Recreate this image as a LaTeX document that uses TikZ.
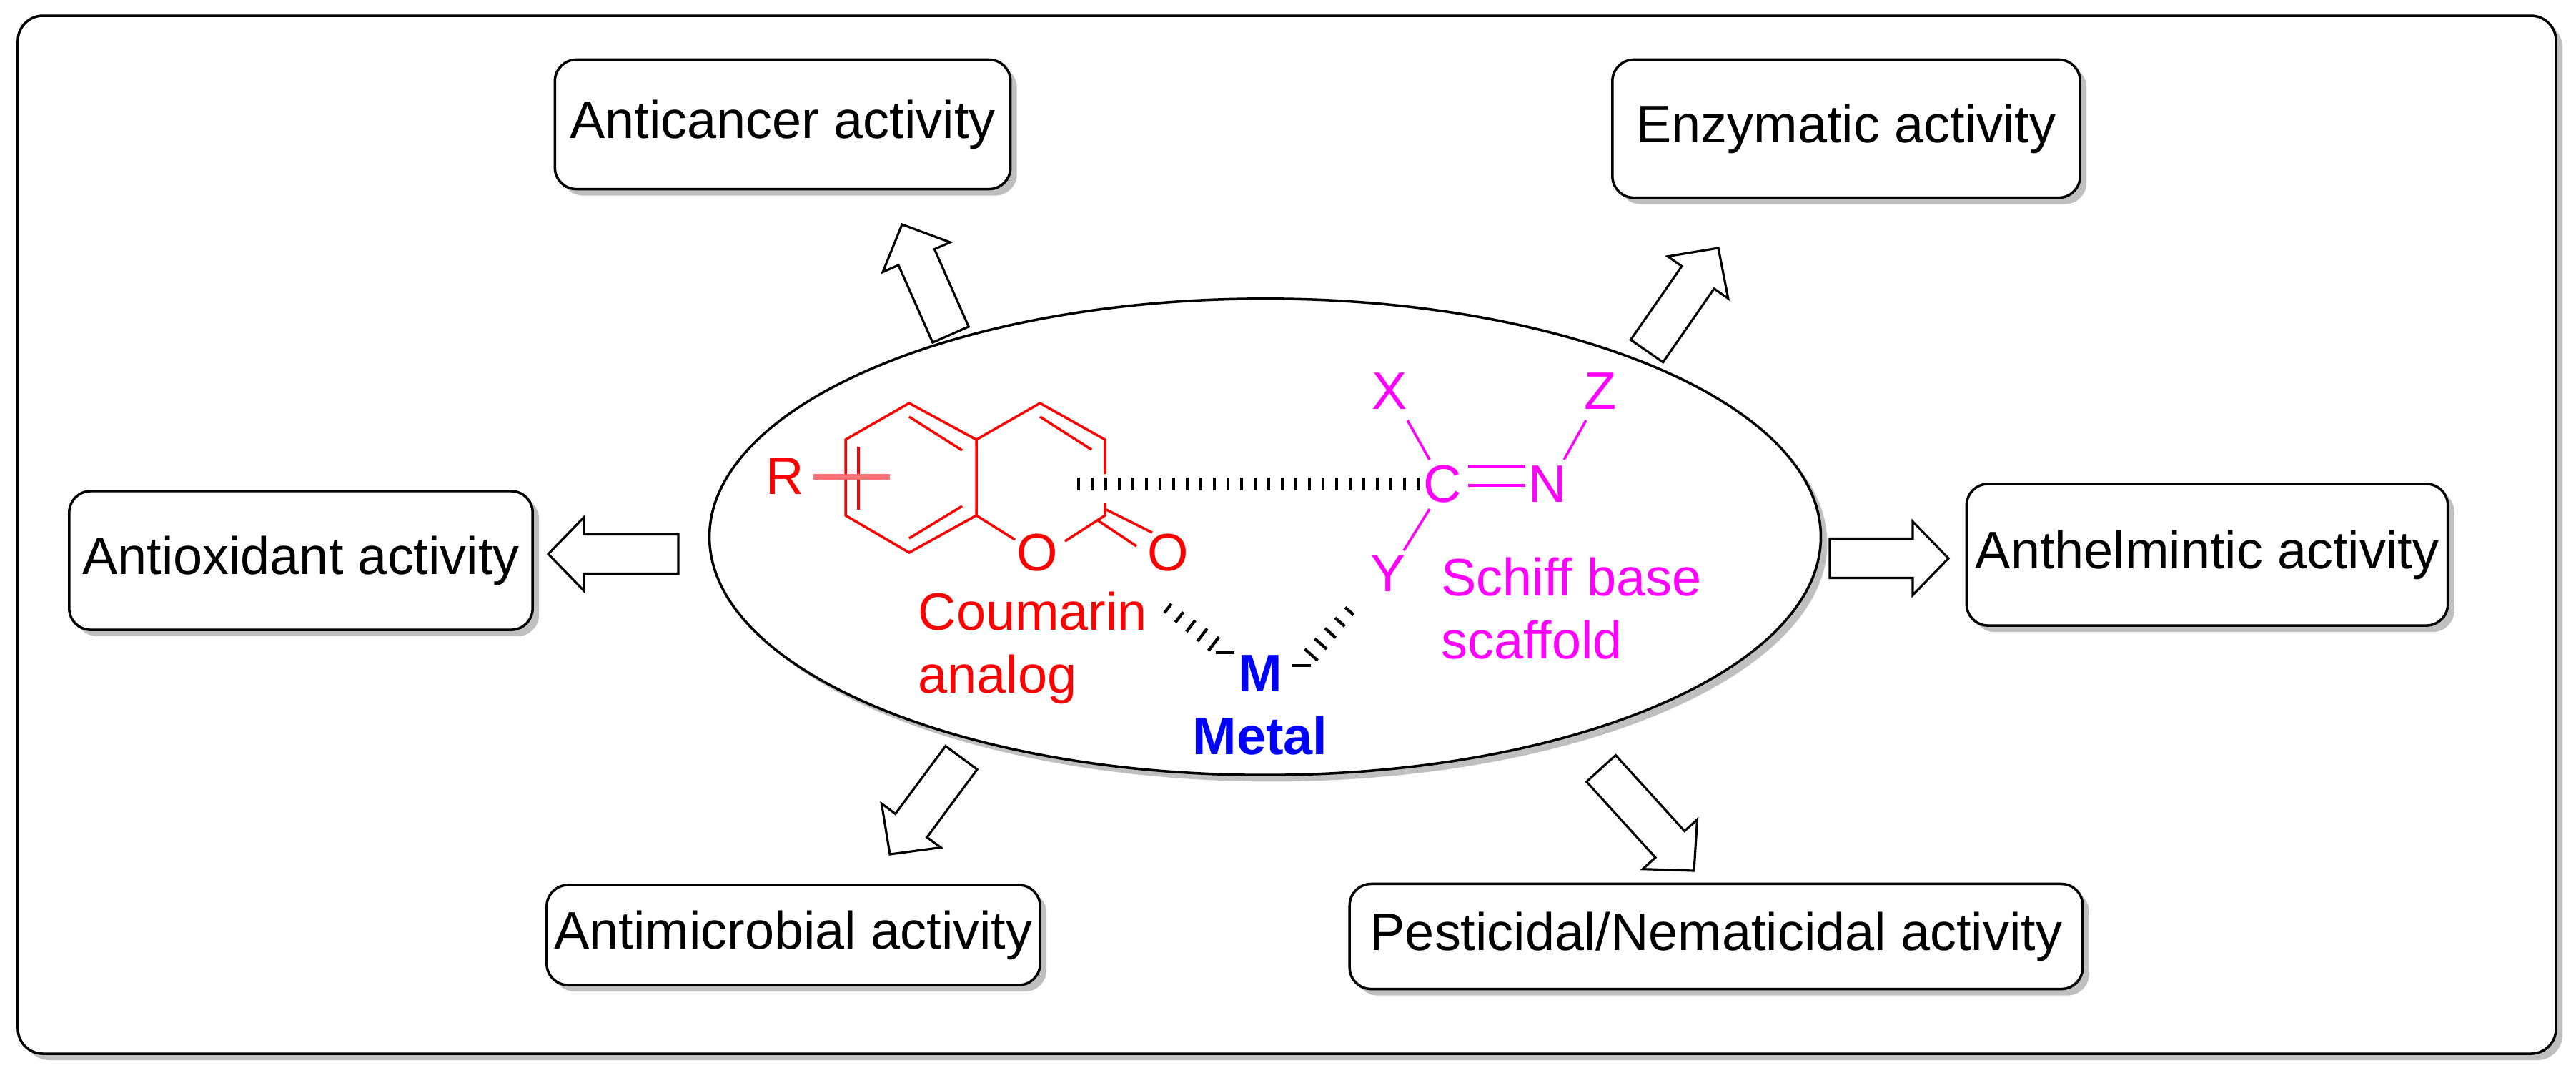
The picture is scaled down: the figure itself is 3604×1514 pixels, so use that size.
\documentclass[tikz,border=0pt]{standalone}
\usepackage{fontspec}
\setmainfont{Liberation Sans}
\usetikzlibrary{shapes.geometric,shadows,calc}
\newcommand\actfont{\fontsize{21}{25}\selectfont}
\definecolor{chemred}{RGB}{255,0,0}
\definecolor{chempink}{RGB}{255,0,255}
\definecolor{chemblue}{RGB}{0,0,255}
\tikzset{
  shade box/.style={drop shadow={shadow xshift=0.09cm, shadow yshift=-0.09cm, fill=black!25, opacity=1}},
  act/.style={draw, line width=1pt, rounded corners=0.3cm, fill=white, shade box,
              font=\actfont, inner sep=0pt},
  open arrow/.style={draw, line width=0.9pt, fill=white, line join=miter},
  atom/.style={font=\actfont, inner sep=0pt},
  bond/.style={line width=1pt}
}
\newcommand\openarrow[2]{%
  \coordinate (hb) at ($(#2)!0.5cm!(#1)$);
  \draw[open arrow] ($(#1)!0.275cm!90:(#2)$) -- ($(hb)!0.275cm!90:(#2)$) -- ($(hb)!0.515cm!90:(#2)$)
    -- (#2) -- ($(hb)!0.515cm!-90:(#2)$) -- ($(hb)!0.275cm!-90:(#2)$) -- ($(#1)!0.275cm!-90:(#2)$) -- cycle;}
\begin{document}
\begin{tikzpicture}[x=0.01cm, y=-0.01cm]
  \useasboundingbox (0,0) rectangle (3604,1514);
  % frame
  \draw[line width=1pt, rounded corners=0.35cm, shade box, fill=white] (25,22) rectangle (3576,1474);

  % activity boxes
  \node[act, minimum width=6.37cm, minimum height=1.81cm] (cancer) at (1095,174) {Anticancer activity};
  \node[act, minimum width=6.54cm, minimum height=1.93cm] (enzyme) at (2583,180) {Enzymatic activity};
  \node[act, minimum width=6.48cm, minimum height=1.94cm] (oxid) at (421,784) {Antioxidant activity};
  \node[act, minimum width=6.73cm, minimum height=1.98cm] (helm) at (3088,776) {Anthelmintic activity};
  \node[act, minimum width=6.90cm, minimum height=1.40cm] (microb) at (1110,1308) {Antimicrobial activity};
  \node[act, minimum width=10.25cm, minimum height=1.47cm] (pest) at (2401,1310) {Pesticidal/Nematicidal activity};

  % central ellipse
  \node[draw, ellipse, line width=1pt, fill=white, shade box, minimum width=15.54cm,
        minimum height=6.66cm] (core) at (1770,751) {};

  % arrows
  \coordinate (t1) at (1330,468); \coordinate (h1) at (1262,314);
  \coordinate (t2) at (2304,491); \coordinate (h2) at (2404,347);
  \coordinate (t3) at (949,775);  \coordinate (h3) at (767,775);
  \coordinate (t4) at (2560,781); \coordinate (h4) at (2726,781);
  \coordinate (t5) at (1345,1060); \coordinate (h5) at (1245,1195);
  \coordinate (t6) at (2240,1075); \coordinate (h6) at (2370,1218);
  \foreach \i in {1,...,6} {\openarrow{t\i}{h\i}}

  % coumarin
  \begin{scope}[chemred, bond]
    \draw (1183,615) -- (1272,564) -- (1366,615) -- (1366,721) -- (1272,773) -- (1183,721) -- cycle;
    \draw (1272,583) -- (1346,630);
    \draw (1346,708) -- (1272,753);
    \draw (1201,625) -- (1201,713);
    \draw (1366,615) -- (1455,564) -- (1546,615) -- (1546,663);
    \draw (1546,704) -- (1546,721) -- (1490,757);
    \draw (1455,583) -- (1527,629);
    \draw (1366,721) -- (1420,755);
    \draw (1546,712) -- (1612,745);
    \draw (1536,728) -- (1590,764);
    \draw[line width=2.5pt, chemred!55] (1138,667) -- (1245,667);
  \end{scope}
  \node[atom, chemred] (R) at (1098,666) {R};
  \node[atom, chemred] (o1) at (1451,773) {O};
  \node[atom, chemred] (o2) at (1634,773) {O};
  \node[atom, chemred, align=left, anchor=west] (coum) at (1284,906) {Coumarin\\analog};

  % hashed link
  \foreach \x in {1509,1528,...,1990} \draw[line width=1.4pt] (\x,668) -- (\x,686);

  % Schiff base
  \node[atom, chempink] (C) at (2018,677) {C};
  \node[atom, chempink] (N) at (2165,677) {N};
  \node[atom, chempink] (X) at (1944,547) {X};
  \node[atom, chempink] (Y) at (1942,802) {Y};
  \node[atom, chempink] (Z) at (2239,547) {Z};
  \begin{scope}[chempink, bond]
    \draw (2054,652) -- (2134,652);
    \draw (2054,679) -- (2134,679);
    \draw (1969,588) -- (2000,643);
    \draw (2000,712) -- (1964,770);
    \draw (2219,588) -- (2188,643);
  \end{scope}
  \node[atom, chempink, align=left, anchor=west] (schiff) at (2016,851) {Schiff base\\scaffold};

  % metal
  \node[atom, chemblue, font=\actfont\bfseries] (M) at (1763,942) {M};
  \node[atom, chemblue, font=\actfont\bfseries] (metal) at (1763,1029) {Metal};
  \coordinate (ma) at (1634,851); \coordinate (mb) at (1714,913);
  \coordinate (mc) at (1888,855); \coordinate (md) at (1821,931);
  \foreach \t in {0,0.2,...,1.01} {
    \path (ma) -- (mb) coordinate[pos=\t] (p);
    \draw[line width=1.2pt] ($(p)!{0.08cm+0.05cm*\t}!90:(mb)$) -- ($(p)!{0.08cm+0.05cm*\t}!-90:(mb)$);
    \path (mc) -- (md) coordinate[pos=\t] (q);
    \draw[line width=1.2pt] ($(q)!{0.08cm+0.05cm*\t}!90:(md)$) -- ($(q)!{0.08cm+0.05cm*\t}!-90:(md)$);
  }
\end{tikzpicture}
\end{document}
